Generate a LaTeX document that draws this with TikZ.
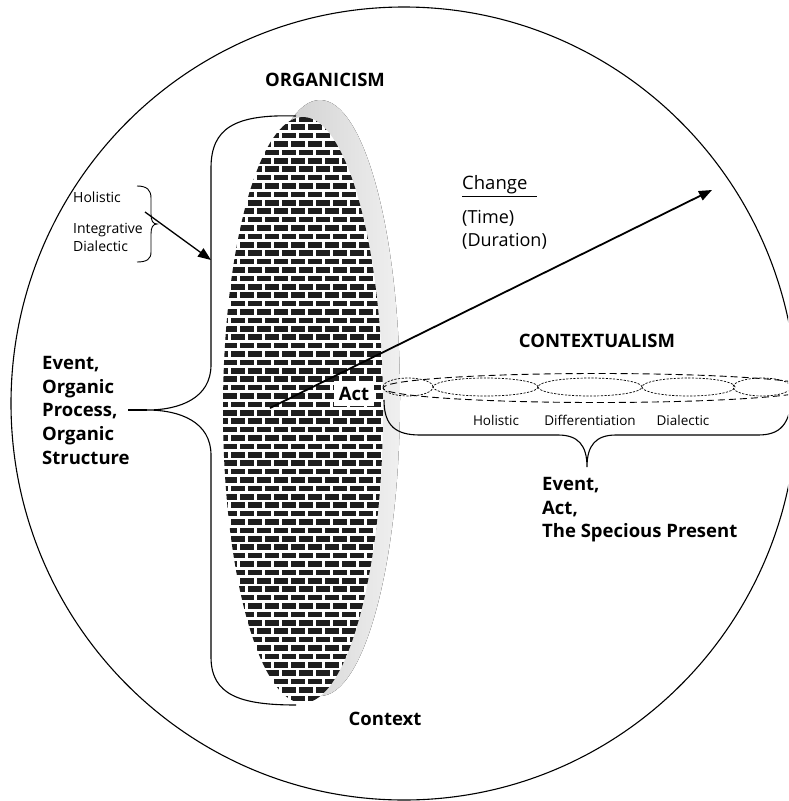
\documentclass[tikz,border=0pt]{standalone}
\usepackage{fontspec}
\setmainfont{Open Sans}
\usepackage{tikz}
\usetikzlibrary{arrows.meta}
\definecolor{BrickBlack}{HTML}{1E1E1E}
\definecolor{ShadeGray}{HTML}{C4C4C4}
\definecolor{ShadeLight}{HTML}{F0F0F0}

\begin{document}
\begin{tikzpicture}[x=1pt, y=-1pt, every node/.style={font=\fontsize{14}{18}\selectfont, inner sep=0pt}]
  \tikzstyle{title}=[font=\fontsize{18.5}{23.75}\selectfont\bfseries]
  \tikzstyle{small}=[font=\fontsize{14}{18}\selectfont, align=left]
  \tikzstyle{brace}=[line width=1.1pt]
  \tikzstyle{pointer}=[line width=1.8pt, -{Triangle[length=13pt, width=10pt]}]
  \tikzstyle{dotring}=[line width=0.7pt, dash pattern=on 2.2pt off 1.4pt]
  \useasboundingbox (0,0) rectangle (788,801);
  \clip (0,0) rectangle (788,801);
  \draw[line width=1.1pt] (404,403.5) ellipse [x radius=393pt, y radius=396.5pt];
  \fill[left color=ShadeGray, right color=ShadeLight] (320,398) ellipse [x radius=80pt, y radius=298pt];
  \fill[white] (303,410) ellipse [x radius=80pt, y radius=293pt];
  \begin{scope}
    \clip (303,410) ellipse [x radius=80pt, y radius=293pt];
    \foreach \r in {0,...,71} {
      \pgfmathsetmacro{\rowY}{116+8.4*\r}
      \pgfmathsetmacro{\rowX}{214+8.5*mod(\r,2)}
      \foreach \c in {0,...,11}
        \fill[BrickBlack] (\rowX+17*\c,\rowY) rectangle ++(14,5.6);
    }
  \end{scope}
  \node[title, anchor=base] (organicism) at (325,86) {ORGANICISM};
  \node[title, anchor=base] (contextualism) at (597,347) {CONTEXTUALISM};
  \node[title, anchor=base] (context) at (385,725) {Context};
  \node[title, anchor=base, fill=white, inner xsep=5pt, inner ysep=6pt] (act) at (354,400) {Act};
  \node[title, anchor=north west, align=left] (eventO) at (42,356) {Event,\\Organic\\Process,\\Organic\\Structure};
  \node[title, anchor=north west, align=left] (eventC) at (542,477) {Event,\\Act,\\The Specious Present};
  \node[small, anchor=base west] (holisticL) at (73,202) {Holistic};
  \node[small, anchor=north west] (integrative) at (73,223) {Integrative\\Dialectic};
  \node[small, anchor=base, font=\fontsize{13.5}{18}\selectfont] (holisticC) at (496,425) {Holistic};
  \node[small, anchor=base, font=\fontsize{13.5}{18}\selectfont] (differentiation) at (590,425) {Differentiation};
  \node[small, anchor=base, font=\fontsize{13.5}{18}\selectfont] (dialectic) at (683,425) {Dialectic};
  \node[anchor=base west, font=\fontsize{18.5}{22}\selectfont, text width=75pt] (change) at (462,189) {Change};
  \node[anchor=north west, align=left, font=\fontsize{18}{23}\selectfont] (timeDur) at (462,210) {(Time)\\(Duration)};
  \draw[line width=1.2pt] ([yshift=-3pt]change.south west) -- ([yshift=-3pt]change.south east);
  \coordinate (bigTip) at (147,410);
  \coordinate (tickStart) at (128,410);
  \coordinate (smallTip) at (157,224);
  \coordinate (holStart) at (145,212);
  \coordinate (bigEdge) at (211,260);
  \coordinate (origin) at (270,408);
  \coordinate (changeTip) at (712,190);
  \coordinate (ctxTip) at (587,467);
  \draw[brace] (296,116) .. controls (235,114) and (211,128) .. (211,168) -- (211,365) .. controls (211,398) and (180,410) .. (bigTip) .. controls (180,410) and (211,422) .. (211,455) -- (211,657) .. controls (211,695) and (240,705) .. (296,705);
  \draw[brace] (tickStart) -- (bigTip);
  \draw[brace, line width=0.9pt] (137,186) .. controls (147,186) and (151,190) .. (151,198) -- (151,214) .. controls (151,221) and (153,224) .. (smallTip) .. controls (153,224) and (151,227) .. (151,234) -- (151,252) .. controls (151,259) and (147,262) .. (137,262);
  \draw[pointer, line width=1.3pt] (holStart) -- (bigEdge);
  \draw[pointer] (origin) -- (changeTip);
  \draw[line width=0.9pt, dash pattern=on 7pt off 4pt] (598,388) ellipse [x radius=215pt, y radius=14.5pt];
  \foreach \cx/\rx in {408/25, 485.5/52.5, 590/52, 688.5/46.5, 762/29}
    \draw[dotring] (\cx,387) ellipse [x radius=\rx pt, y radius=9pt];
  \draw[brace] (384,400) .. controls (384,426) and (396,435) .. (420,435) -- (558,435) .. controls (578,435) and (587,445) .. (ctxTip) .. controls (587,445) and (596,435) .. (616,435) -- (758,435) .. controls (780,435) and (790,425) .. (792,395);
\end{tikzpicture}
\end{document}
